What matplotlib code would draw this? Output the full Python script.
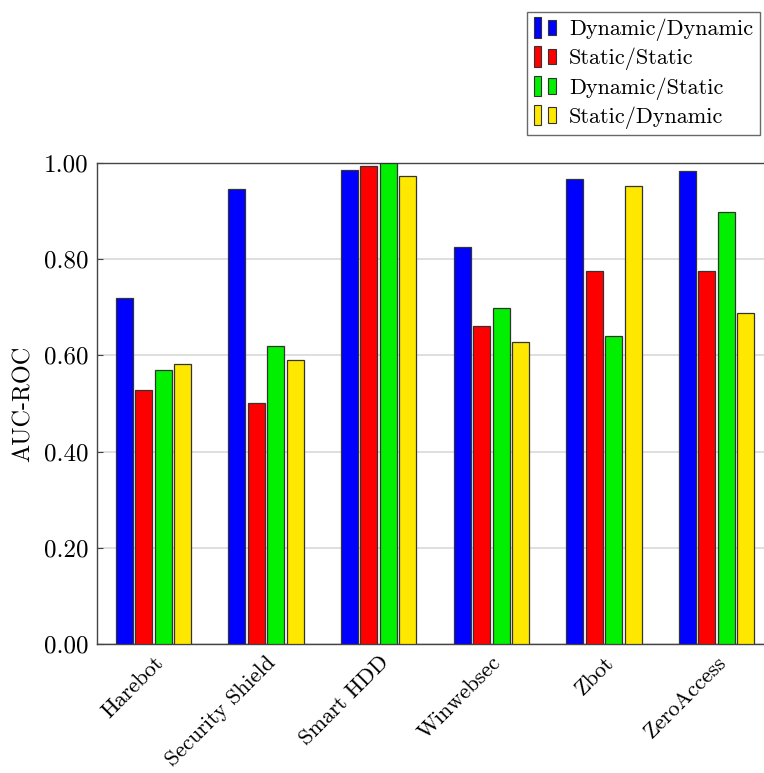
import numpy as np
import matplotlib
matplotlib.use("Agg")
import matplotlib.pyplot as plt
import matplotlib.patches as patches
from matplotlib.legend_handler import HandlerBase

plt.rcParams['font.family'] = ['cmr10', 'DejaVu Serif']
plt.rcParams['mathtext.fontset'] = 'cm'
plt.rcParams['axes.unicode_minus'] = False

# data
categories = ['Harebot', 'Security Shield', 'Smart HDD', 'Winwebsec', 'Zbot', 'ZeroAccess']
series_names = ['Dynamic/Dynamic', 'Static/Static', 'Dynamic/Static', 'Static/Dynamic']
dyn_dyn = [0.720, 0.945, 0.985, 0.825, 0.967, 0.983]
sta_sta = [0.528, 0.502, 0.994, 0.661, 0.775, 0.775]
dyn_sta = [0.569, 0.620, 1.000, 0.699, 0.640, 0.898]
sta_dyn = [0.582, 0.591, 0.974, 0.627, 0.952, 0.688]
yticks = [0.0, 0.2, 0.4, 0.6, 0.8, 1.0]

colors = ['#0000ff', '#ff0000', '#00f000', '#ffe800']
series = [dyn_dyn, sta_sta, dyn_sta, sta_dyn]

fig = plt.figure(figsize=(7.64, 7.73), dpi=100)
ax = fig.add_axes([97 / 764, 1 - 644 / 773, 676 / 764, 481 / 773])

x = np.arange(len(categories))
step = 0.173
width = 0.15
for i, (vals, c) in enumerate(zip(series, colors)):
    ax.bar(x + (i - 1.5) * step, vals, width, color=c, edgecolor='#333333',
           linewidth=0.9, zorder=3, label=series_names[i])

ax.set_xlim(-0.5, 5.5)
ax.set_ylim(0, 1)
ax.set_yticks(yticks)
ax.set_yticklabels(['%.2f' % t for t in yticks], fontsize=18)
ax.yaxis.grid(True, color='#d9d9d9', linewidth=1.2, zorder=0)
ax.set_xticks(x)
ax.set_xticklabels(categories, rotation=45, ha='right', rotation_mode='anchor', fontsize=16)
ax.tick_params(axis='x', length=0, pad=6)
ax.tick_params(axis='y', direction='in', length=4, color='#444444', pad=6)
ax.set_ylabel('AUC-ROC', fontsize=17.5, labelpad=7)
for s in ax.spines.values():
    s.set_color('#444444')
    s.set_linewidth(1.0)


class TwoBars(HandlerBase):
    def create_artists(self, legend, orig, xd, yd, w, h, fontsize, trans):
        c = orig.get_facecolor()
        bw = w * 0.33
        r1 = patches.Rectangle((xd, yd - h * 0.15), bw, h * 1.3, facecolor=c,
                               edgecolor='#333333', lw=0.8, transform=trans)
        r2 = patches.Rectangle((xd + bw * 1.9, yd), bw, h * 1.0, facecolor=c,
                               edgecolor='#333333', lw=0.8, transform=trans)
        return [r1, r2]


handles = [patches.Patch(facecolor=c) for c in colors]
leg = fig.legend(handles, series_names, loc='upper left',
                 bbox_to_anchor=(527 / 764, 1 - 12 / 773),
                 handler_map={patches.Patch: TwoBars()},
                 fontsize=16, frameon=True, fancybox=False,
                 handlelength=1.05, handletextpad=0.55, labelspacing=0.3,
                 borderpad=0.3, borderaxespad=0)
leg.get_frame().set_edgecolor('#444444')
leg.get_frame().set_linewidth(1.0)

fig.savefig('out.png', dpi=100)
